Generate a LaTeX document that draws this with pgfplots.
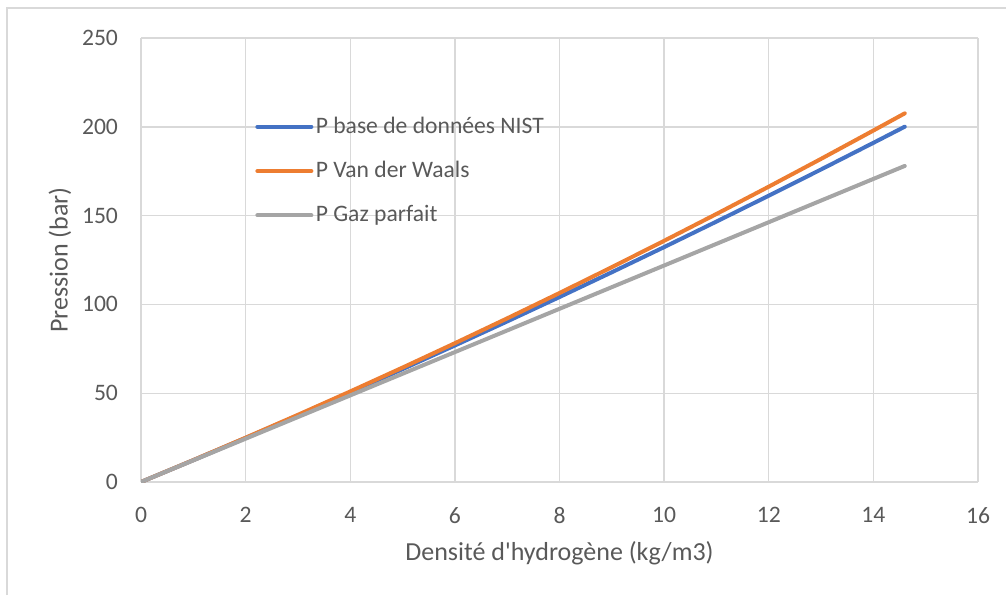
\documentclass[border=0pt]{standalone}
\usepackage{fontspec}
\setmainfont{Carlito}
\usepackage{pgfplots}
\pgfplotsset{compat=1.18}
\definecolor{xlblue}{HTML}{4472C4}
\definecolor{xlorange}{HTML}{ED7D31}
\definecolor{xlgray}{HTML}{A5A5A5}
\definecolor{gridc}{HTML}{D9D9D9}
\definecolor{txt}{HTML}{595959}
\definecolor{frame}{HTML}{D9D9D9}
\begin{document}
\begin{tikzpicture}
\useasboundingbox (0pt,0pt) rectangle (503pt,297.5pt);
\draw[frame,line width=0.6pt] (3.5pt,0pt) -- (3.5pt,293.5pt) -- (503pt,293.5pt);
\begin{axis}[
  at={(70.5pt,56.5pt)}, anchor=south west,
  scale only axis, width=418.5pt, height=222pt,
  xmin=0, xmax=16, ymin=0, ymax=250,
  xtick={0,2,...,16}, ytick={0,50,...,250},
  grid=major,
  major grid style={gridc, line width=0.7pt},
  axis line style={gridc, line width=0.7pt},
  axis lines*=left,
  tick style={draw=none},
  /pgf/number format/assume math mode=true,
  ticklabel style={font=\fontsize{11.8}{14}\selectfont, text=txt},
  xticklabel style={yshift=-9pt},
  yticklabel style={xshift=-8pt},
  xlabel={Densité d\textquotesingle hydrogène (kg/m3)},
  ylabel={Pression (bar)},
  label style={font=\fontsize{13}{15}\selectfont, text=txt},
  xlabel style={at={(0.5,0)}, anchor=center, yshift=-35.5pt},
  ylabel style={at={(0,0.5)}, anchor=center, rotate=0, yshift=40.5pt},
  legend style={draw=none, fill=none, at={(0.129,0.7005)}, anchor=west,
    font=\fontsize{11.8}{14}\selectfont, text=txt, row sep=10.1pt,
    nodes={inner sep=1.2pt}},
  legend cell align=left,
  legend image code/.code={\draw[#1] (0pt,0pt) -- (27pt,0pt);},
  every axis plot/.append style={line width=2pt, line cap=round, line join=round},
]
\addplot[xlblue] coordinates {
(0,0) (1,12.29) (2,24.79) (3,37.50) (4,50.42) (5,63.54) (6,76.87) (7,90.41)
(8,104.15) (9,118.10) (10,132.26) (11,146.63) (12,161.20) (13,175.98) (14,190.97) (14.6,200.06)};
\addlegendentry{P base de données NIST}
\addplot[xlorange] coordinates {
(0,0) (1,12.33) (2,24.94) (3,37.82) (4,50.98) (5,64.42) (6,78.14) (7,92.14)
(8,106.41) (9,120.97) (10,135.80) (11,150.91) (12,166.29) (13,181.95) (14,197.90) (14.6,207.58)};
\addlegendentry{P Van der Waals}
\addplot[xlgray] coordinates {
(0,0) (1,12.19) (2,24.38) (3,36.57) (4,48.76) (5,60.95) (6,73.14) (7,85.33)
(8,97.52) (9,109.71) (10,121.9) (11,134.09) (12,146.28) (13,158.47) (14,170.66) (14.6,177.97)};
\addlegendentry{P Gaz parfait}
\end{axis}
\end{tikzpicture}
\end{document}
